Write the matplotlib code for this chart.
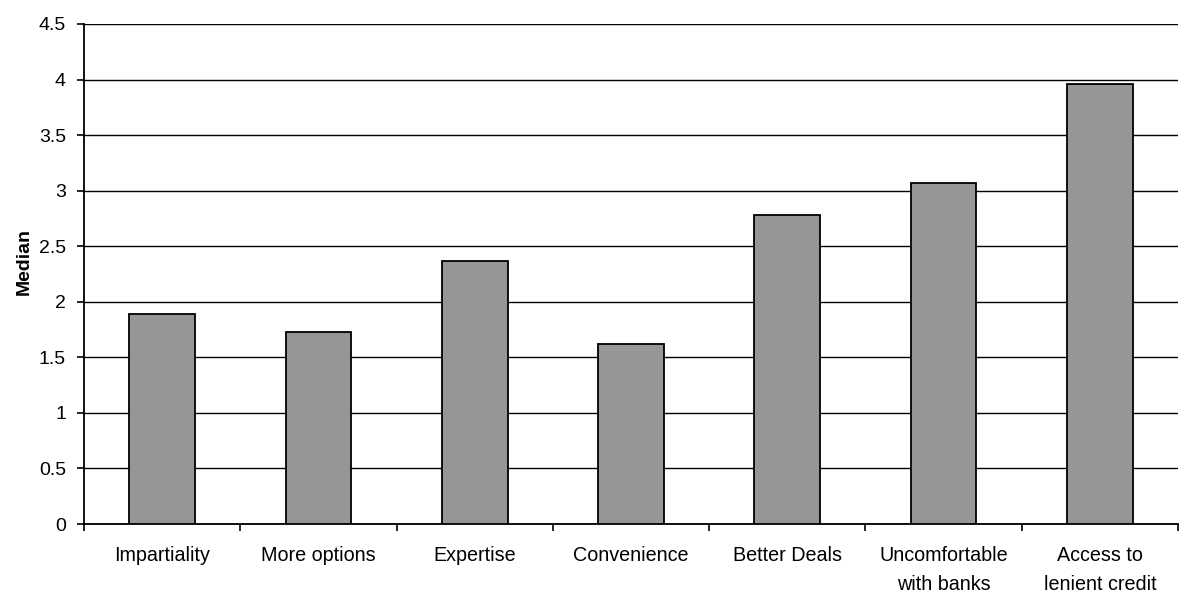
import matplotlib
matplotlib.use("Agg")
import matplotlib.pyplot as plt
import numpy as np

plt.rcParams['font.family'] = ['Liberation Sans', 'DejaVu Sans']

# данные
categories = ["Impartiality", "More options", "Expertise", "Convenience",
              "Better Deals", "Uncomfortable\nwith banks", "Access to\nlenient credit"]
medians = [1.89, 1.73, 2.37, 1.62, 2.78, 3.07, 3.96]
y_ticks = [0, 0.5, 1, 1.5, 2, 2.5, 3, 3.5, 4, 4.5]

fig = plt.figure(figsize=(11.87, 5.94), dpi=100)
ax = fig.add_axes([0.0708, 0.1178, 0.9216, 0.8418])

x = np.arange(len(categories))
ax.bar(x, medians, width=0.42, color="#969696", edgecolor="black", linewidth=1.3, zorder=3)

ax.set_xlim(-0.5, len(categories) - 0.5)
ax.set_ylim(0, 4.5)
ax.set_yticks(y_ticks)
ax.set_yticklabels([f"{t:g}" for t in y_ticks], fontsize=14)
ax.yaxis.grid(True, color="black", linewidth=1.0, zorder=0)

# подписи категорий без делений, деления между категориями
ax.set_xticks(x)
ax.set_xticklabels(categories, fontsize=14.2, linespacing=1.65)
ax.tick_params(axis="x", length=0, pad=16)
ax.set_xticks(np.arange(-0.5, len(categories)), minor=True)
ax.tick_params(axis="x", which="minor", length=5, width=1.2, color="black")
ax.tick_params(axis="y", length=5, width=1.2, pad=8)

for s in ["top", "right"]:
    ax.spines[s].set_visible(False)
for s in ["left", "bottom"]:
    ax.spines[s].set_linewidth(1.3)

ax.set_ylabel("Median", fontsize=14, fontweight="bold")
ax.yaxis.set_label_coords(-0.047, 0.525)

fig.savefig("out.png", dpi=100)
